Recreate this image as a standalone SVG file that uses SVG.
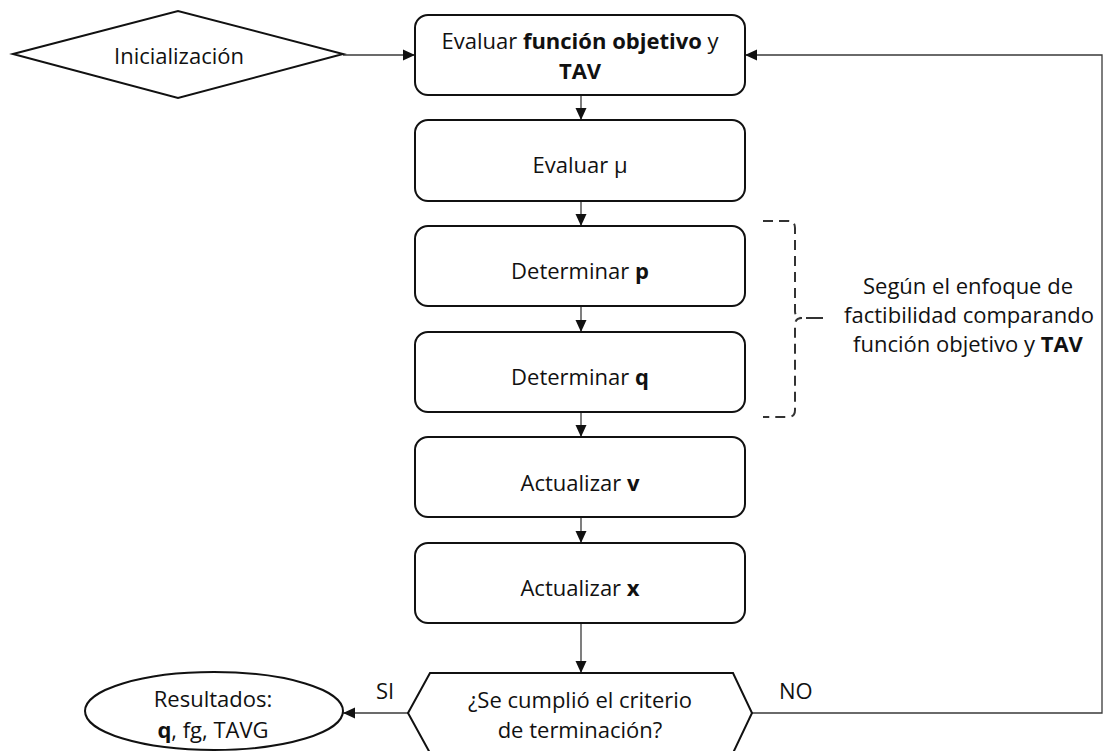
<svg xmlns="http://www.w3.org/2000/svg" width="1104" height="751" viewBox="0 0 1104 751">
  <style>
    .shape { fill: #ffffff; stroke: #111111; stroke-width: 2; }
    .lbl { font-family: "Open Sans", "Noto Sans", "DejaVu Sans", sans-serif; font-size: 22px; fill: #111111; text-anchor: middle; }
    .lbl-l { font-family: "Open Sans", "Noto Sans", "DejaVu Sans", sans-serif; font-size: 22px; fill: #111111; }
    .b { font-weight: bold; }
    .conn { fill: none; stroke: #3a3a3a; stroke-width: 1.3; }
    .brace { fill: none; stroke: #333333; stroke-width: 2; stroke-dasharray: 10 6; }
  </style>
  <defs>
    <marker id="arrow" viewBox="0 0 12 12" refX="12" refY="6" markerWidth="12" markerHeight="12" markerUnits="userSpaceOnUse" orient="auto">
      <path d="M0,0.5 L12,6 L0,11.5 Z" fill="#111111"/>
    </marker>
  </defs>
  <rect width="1104" height="751" fill="#ffffff"/>

  <!-- connectors -->
  <g id="connectors">
    <line class="conn" x1="343" y1="55" x2="415" y2="55" marker-end="url(#arrow)"/>
    <line class="conn" x1="581" y1="95" x2="581" y2="120" marker-end="url(#arrow)"/>
    <line class="conn" x1="581" y1="201" x2="581" y2="226" marker-end="url(#arrow)"/>
    <line class="conn" x1="581" y1="306" x2="581" y2="332" marker-end="url(#arrow)"/>
    <line class="conn" x1="581" y1="412" x2="581" y2="437" marker-end="url(#arrow)"/>
    <line class="conn" x1="581" y1="517" x2="581" y2="543" marker-end="url(#arrow)"/>
    <line class="conn" x1="581" y1="623" x2="581" y2="673" marker-end="url(#arrow)"/>
    <line class="conn" x1="408" y1="713" x2="343" y2="713" marker-end="url(#arrow)"/>
    <polyline class="conn" points="752,713 1102,713 1102,55 745,55" marker-end="url(#arrow)"/>
    <text class="lbl-l" x="376" y="699">SI</text>
    <text class="lbl-l" x="779" y="699">NO</text>
  </g>

  <!-- start -->
  <g id="node-inicializacion">
    <polygon class="shape" points="13,54 178,11 343,54 178,98"/>
    <text class="lbl" x="179" y="64">Inicialización</text>
  </g>

  <g id="node-evaluar-fo">
    <rect class="shape" x="415" y="15" width="330" height="80" rx="13"/>
    <text class="lbl" x="580" y="49">Evaluar <tspan class="b">función objetivo</tspan> y</text>
    <text class="lbl b" x="580" y="79">TAV</text>
  </g>

  <g id="node-evaluar-mu">
    <rect class="shape" x="415" y="120" width="330" height="81" rx="13"/>
    <text class="lbl" x="580" y="173">Evaluar μ</text>
  </g>

  <g id="node-determinar-p">
    <rect class="shape" x="415" y="226" width="330" height="80" rx="13"/>
    <text class="lbl" x="580" y="279">Determinar <tspan class="b">p</tspan></text>
  </g>

  <g id="node-determinar-q">
    <rect class="shape" x="415" y="332" width="330" height="80" rx="13"/>
    <text class="lbl" x="580" y="385">Determinar <tspan class="b">q</tspan></text>
  </g>

  <g id="node-actualizar-v">
    <rect class="shape" x="415" y="437" width="330" height="80" rx="13"/>
    <text class="lbl" x="580" y="491">Actualizar <tspan class="b">v</tspan></text>
  </g>

  <g id="node-actualizar-x">
    <rect class="shape" x="415" y="543" width="330" height="80" rx="13"/>
    <text class="lbl" x="580" y="596">Actualizar <tspan class="b">x</tspan></text>
  </g>

  <g id="node-criterio">
    <polygon class="shape" points="430,673 733,673 752,713 733,753 430,753 408,713"/>
    <text class="lbl" x="580" y="708">¿Se cumplió el criterio</text>
    <text class="lbl" x="580" y="738">de terminación?</text>
  </g>

  <g id="node-resultados">
    <ellipse class="shape" cx="214" cy="711" rx="129" ry="39"/>
    <text class="lbl" x="213" y="707">Resultados:</text>
    <text class="lbl" x="213" y="738"><tspan class="b">q</tspan>, fg, TAVG</text>
  </g>

  <!-- annotation brace -->
  <g id="note-factibilidad">
    <path class="brace" d="M763,221 L788,221 Q795,221 795,228 L795,311 Q795,318 802,318 Q795,318 795,325 L795,410 Q795,417 788,417 L763,417"/>
    <line x1="806" y1="318" x2="823" y2="318" stroke="#333333" stroke-width="2"/>
    <text class="lbl" x="968" y="294">Según el enfoque de</text>
    <text class="lbl" x="969" y="323">factibilidad comparando</text>
    <text class="lbl" x="968" y="352">función objetivo y <tspan class="b">TAV</tspan></text>
  </g>
</svg>
